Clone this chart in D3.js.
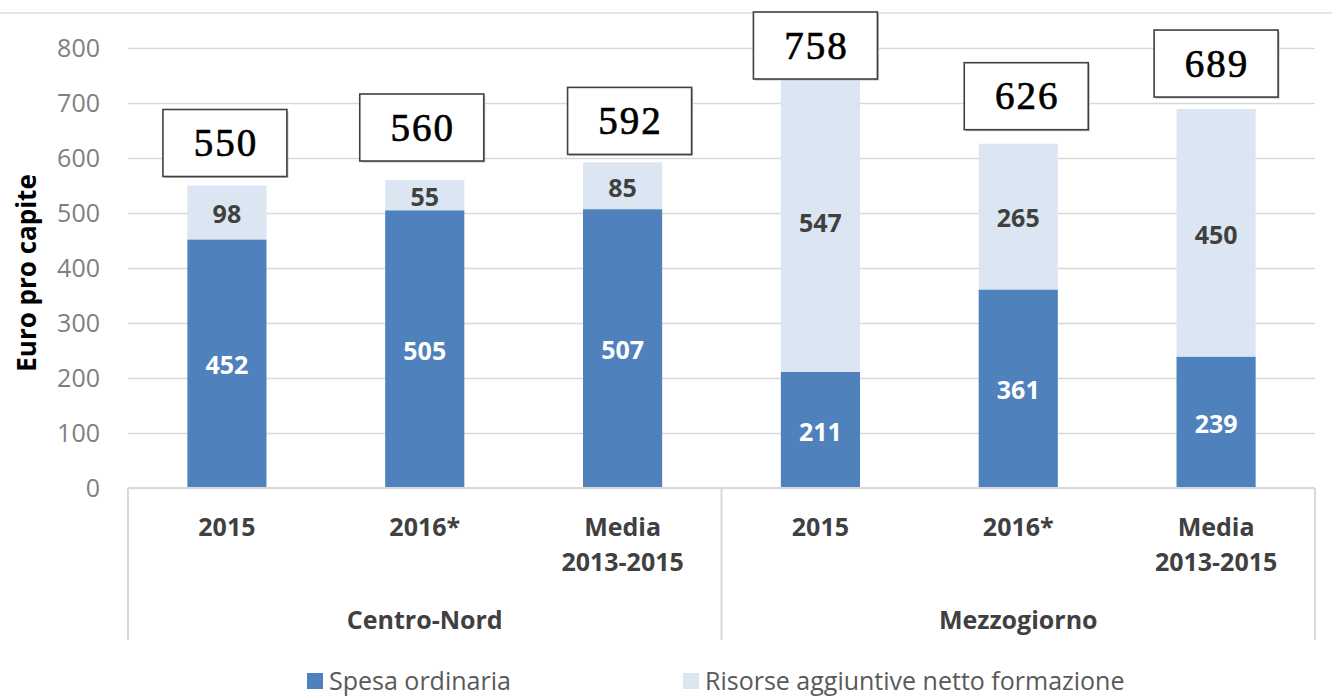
<!DOCTYPE html>
<html>
<head>
<meta charset="utf-8">
<script src="https://cdn.jsdelivr.net/npm/d3@7"></script>
<style>
  body { margin: 0; background: #fff; }
  svg { display: block; font-family: "Open Sans", sans-serif; }
</style>
</head>
<body>
<svg width="1332" height="698"></svg>
<script>
// data
var regions = ["Centro-Nord", "Mezzogiorno"];
var periods = ["2015", "2016*", "Media 2013-2015"];
var spesaOrdinaria = [452, 505, 507, 211, 361, 239];
var risorseAggiuntive = [98, 55, 85, 547, 265, 450];
var totals = [550, 560, 592, 758, 626, 689];
var yTicks = [0, 100, 200, 300, 400, 500, 600, 700, 800];
var seriesNames = ["Spesa ordinaria", "Risorse aggiuntive netto formazione"];

// manual placement of the total boxes (dx from bar centre, gap above bar top)
var boxNudge = [[-2, 9], [-3, 19], [7, 8], [-5, -7], [8, 14], [0, 12]];

var colors = ["#4f81bd", "#dce6f2"];
var gridColor = "#d9d9d9";

// note: "top" is taken by window.top, so plot edges get their own names
var svg = d3.select("svg"),
    plotLeft = 128, plotRight = 1315, plotTop = 48, plotBottom = 488;

var cats = [];
regions.forEach(function(r) {
  periods.forEach(function(p) { cats.push(r + "|" + p); });
});

var x = d3.scaleBand().domain(cats).range([plotLeft, plotRight]).paddingInner(0.6).paddingOuter(0.3),
    y = d3.scaleLinear().domain([0, 800]).range([plotBottom, plotTop]);

// chart border line at top
svg.append("line")
    .attr("x1", 0).attr("x2", 1332).attr("y1", 13).attr("y2", 13)
    .attr("stroke", "#e6e6e6").attr("stroke-width", 2);

// y axis + gridlines
var yAxis = svg.append("g")
    .attr("transform", "translate(" + plotLeft + ",0)")
    .call(d3.axisLeft(y).tickValues(yTicks).tickSize(-(plotRight - plotLeft)).tickPadding(28));
yAxis.select(".domain").remove();
yAxis.selectAll(".tick line").attr("stroke", gridColor).attr("stroke-width", 1.5);
yAxis.selectAll(".tick text")
    .attr("fill", "#7f7f7f")
    .style("font-size", "25px")
    .style("font-family", "'Open Sans', sans-serif");

svg.append("text")
    .attr("transform", "translate(36,273) rotate(-90)")
    .attr("text-anchor", "middle")
    .attr("fill", "#000")
    .style("font-size", "26px")
    .style("font-weight", "bold")
    .text("Euro pro capite");

// stacked bars
var stack = cats.map(function(c, i) {
  return [
    {cat: c, y0: 0, y1: spesaOrdinaria[i], v: spesaOrdinaria[i], s: 0},
    {cat: c, y0: spesaOrdinaria[i], y1: spesaOrdinaria[i] + risorseAggiuntive[i], v: risorseAggiuntive[i], s: 1}
  ];
});
var segs = [].concat.apply([], stack);

svg.append("g").selectAll("rect")
    .data(segs)
  .enter().append("rect")
    .attr("x", function(d) { return x(d.cat); })
    .attr("width", x.bandwidth())
    .attr("y", function(d) { return y(d.y1); })
    .attr("height", function(d) { return y(d.y0) - y(d.y1); })
    .attr("fill", function(d) { return colors[d.s]; });

svg.append("g").selectAll("text")
    .data(segs)
  .enter().append("text")
    .attr("x", function(d) { return x(d.cat) + x.bandwidth() / 2; })
    .attr("y", function(d) { return y((d.y0 + d.y1) / 2) + 2; })
    .attr("dy", "0.35em")
    .attr("text-anchor", "middle")
    .attr("fill", function(d) { return d.s == 0 ? "#fff" : "#404040"; })
    .style("font-size", "25px")
    .style("font-weight", "bold")
    .text(function(d) { return d.v; });

// baseline
svg.append("line")
    .attr("x1", plotLeft).attr("x2", plotRight).attr("y1", plotBottom).attr("y2", plotBottom)
    .attr("stroke", gridColor).attr("stroke-width", 2);

// group separators
var groupW = (plotRight - plotLeft) / regions.length;
d3.range(regions.length + 1).forEach(function(i) {
  svg.append("line")
      .attr("x1", plotLeft + i * groupW).attr("x2", plotLeft + i * groupW)
      .attr("y1", plotBottom).attr("y2", 640)
      .attr("stroke", gridColor).attr("stroke-width", 2);
});

// x axis labels
var xAxis = svg.append("g")
    .attr("transform", "translate(0," + plotBottom + ")")
    .call(d3.axisBottom(x).tickSize(0).tickPadding(0).tickFormat(function(d) { return d.split("|")[1]; }));
xAxis.select(".domain").remove();
xAxis.selectAll(".tick text")
    .attr("fill", "#404040")
    .style("font-size", "25px")
    .style("font-weight", "bold")
    .style("font-family", "'Open Sans', sans-serif")
    .each(function(d) {
      var t = d3.select(this), label = d.split("|")[1];
      var parts = label.indexOf("Media") == 0 ? ["Media", "2013-2015"] : [label];
      t.text(null).attr("y", 0).attr("dy", null);
      parts.forEach(function(p, k) {
        t.append("tspan").attr("x", 0).attr("y", 48 + k * 35).text(p);
      });
    });

svg.append("g").selectAll("text")
    .data(regions)
  .enter().append("text")
    .attr("x", function(d, i) { return plotLeft + groupW * (i + 0.5); })
    .attr("y", 629)
    .attr("text-anchor", "middle")
    .attr("fill", "#404040")
    .style("font-size", "25px")
    .style("font-weight", "bold")
    .text(function(d) { return d; });

// total boxes
var boxW = 124, boxH = 67;
var boxes = svg.append("g").selectAll("g")
    .data(totals)
  .enter().append("g")
    .attr("transform", function(d, i) {
      var cx = x(cats[i]) + x.bandwidth() / 2 + boxNudge[i][0];
      var by = Math.max(y(d) - boxNudge[i][1] - boxH, 12);
      return "translate(" + (cx - boxW / 2) + "," + by + ")";
    });
boxes.append("rect")
    .attr("x", 1.5).attr("y", 1.5)
    .attr("width", boxW).attr("height", boxH)
    .attr("fill", "#bfbfbf");
boxes.append("rect")
    .attr("width", boxW).attr("height", boxH)
    .attr("fill", "#fff")
    .attr("stroke", "#404040")
    .attr("stroke-width", 1.6);
boxes.append("text")
    .attr("x", boxW / 2 + 1)
    .attr("y", boxH / 2 + 13)
    .attr("text-anchor", "middle")
    .attr("fill", "#000")
    .attr("stroke", "#000")
    .attr("stroke-width", 0.7)
    .style("font-family", "'Liberation Serif', serif")
    .style("font-size", "39px")
    .style("letter-spacing", "2px")
    .text(function(d) { return d; });

// legend
var legendX = [307, 683];
var legend = svg.append("g").selectAll("g")
    .data(seriesNames)
  .enter().append("g")
    .attr("transform", function(d, i) { return "translate(" + legendX[i] + ",673)"; });
legend.append("rect")
    .attr("width", 16).attr("height", 16)
    .attr("fill", function(d, i) { return colors[i]; });
legend.append("text")
    .attr("x", 22).attr("y", 8).attr("dy", "0.35em")
    .attr("fill", "#595959")
    .style("font-size", "25px")
    .text(function(d) { return d; });
</script>
</body>
</html>
